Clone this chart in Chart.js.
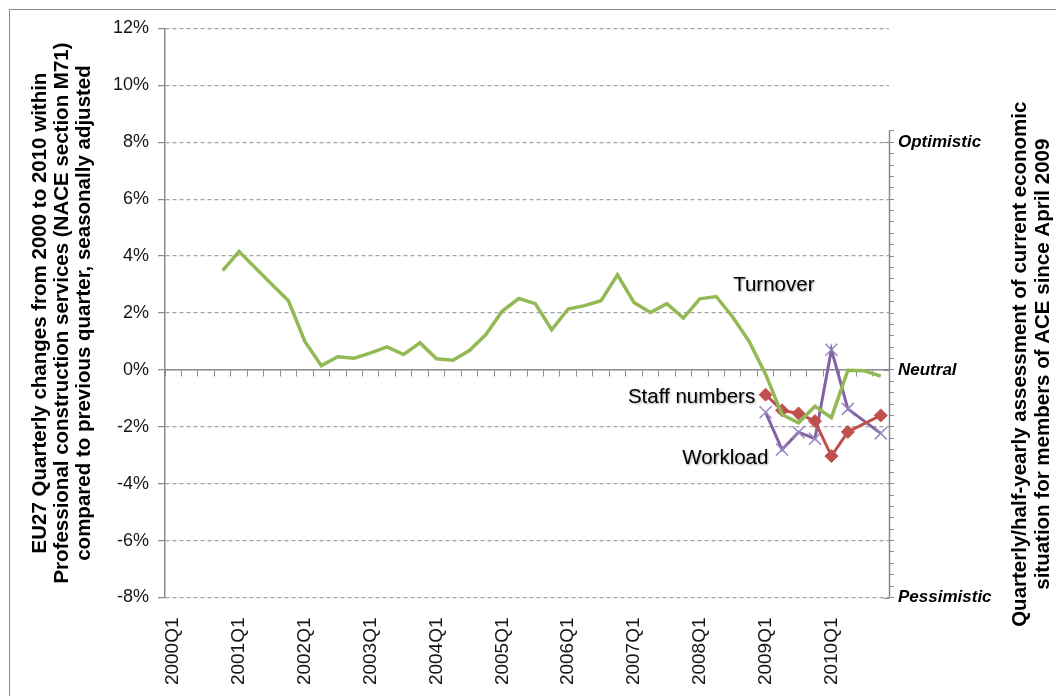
<!DOCTYPE html>
<html>
<head>
<meta charset="utf-8">
<script src="https://cdn.jsdelivr.net/npm/chart.js@4.4.0/dist/chart.umd.min.js"></script>
<style>
    html, body { margin: 0; padding: 0; background: #fff; }
    #wrap { width: 1056px; height: 696px; }
</style>
</head>
<body>
<div id="wrap"><canvas id="chart" width="1056" height="696"></canvas></div>
<script>
// Quarters on the category axis (2000Q1 .. 2010Q4)
const quarters = [
    '2000Q1', '2000Q2', '2000Q3', '2000Q4',
    '2001Q1', '2001Q2', '2001Q3', '2001Q4',
    '2002Q1', '2002Q2', '2002Q3', '2002Q4',
    '2003Q1', '2003Q2', '2003Q3', '2003Q4',
    '2004Q1', '2004Q2', '2004Q3', '2004Q4',
    '2005Q1', '2005Q2', '2005Q3', '2005Q4',
    '2006Q1', '2006Q2', '2006Q3', '2006Q4',
    '2007Q1', '2007Q2', '2007Q3', '2007Q4',
    '2008Q1', '2008Q2', '2008Q3', '2008Q4',
    '2009Q1', '2009Q2', '2009Q3', '2009Q4',
    '2010Q1', '2010Q2', '2010Q3', '2010Q4'
];

// EU27 turnover, % change on previous quarter
const turnover = [
    null, null, null, 3.49,
    4.16, 3.58, 3.00, 2.43,
    1.00, 0.15, 0.46, 0.41,
    0.60, 0.81, 0.54, 0.95,
    0.39, 0.34, 0.68, 1.24,
    2.07, 2.51, 2.33, 1.41,
    2.14, 2.26, 2.43, 3.34,
    2.37, 2.02, 2.33, 1.82,
    2.50, 2.58, 1.86, 1.00,
    -0.15, -1.57, -1.86, -1.28,
    -1.68, -0.01, -0.03, -0.22
];

// ACE survey (plotted on the same scale, right axis labels)
const staffNumbers = [
    null, null, null, null, null, null, null, null, null, null, null, null,
    null, null, null, null, null, null, null, null, null, null, null, null,
    null, null, null, null, null, null, null, null, null, null, null, null,
    -0.87, -1.42, -1.53, -1.80, -3.03, -2.18, null, -1.60
];
const workload = [
    null, null, null, null, null, null, null, null, null, null, null, null,
    null, null, null, null, null, null, null, null, null, null, null, null,
    null, null, null, null, null, null, null, null, null, null, null, null,
    -1.49, -2.80, -2.19, -2.42, 0.71, -1.37, null, -2.23
];

const moodLabels = { '8': 'Optimistic', '0': 'Neutral', '-8': 'Pessimistic' };

const leftTitle = [
    'EU27 Quarterly changes from 2000 to 2010 within',
    'Professional construction services (NACE section M71)',
    'compared to previous quarter, seasonally adjusted'
];
const rightTitle = [
    'Quarterly/half-yearly assessment of current economic',
    'situation for members of ACE since April 2009'
];

const FONT = "'Liberation Sans', Arial, sans-serif";
const AXIS_GREY = '#8c8c8c';

// series names written next to the lines (category index, value)
const seriesNotes = [
    { text: 'Turnover', at: 36.5, value: 2.77 },
    { text: 'Staff numbers', at: 31.5, value: -1.17 },
    { text: 'Workload', at: 33.55, value: -3.30 }
];

const extras = {
    id: 'extras',
    beforeDraw(chart) {
        const { ctx } = chart;
        ctx.save();
        ctx.fillStyle = '#fff';
        ctx.fillRect(0, 0, chart.width, chart.height);
        ctx.strokeStyle = '#8a8a8a';
        ctx.lineWidth = 1;
        ctx.strokeRect(9.5, 9.5, 1200, 1000);
        ctx.restore();
    },
    beforeDatasetsDraw(chart) {
        const { ctx, chartArea } = chart;
        const y2 = chart.scales.y2;
        const x = Math.round(chartArea.right) + 0.5;
        ctx.save();
        ctx.strokeStyle = AXIS_GREY;
        ctx.lineWidth = 1.5;
        ctx.beginPath();
        ctx.moveTo(x, y2.getPixelForValue(8.4));
        ctx.lineTo(x, chartArea.bottom);
        ctx.stroke();
        ctx.lineWidth = 1;
        [8, 0, -8].forEach(v => {
            const y = Math.round(y2.getPixelForValue(v)) + 0.5;
            ctx.beginPath();
            ctx.moveTo(x - 6, y);
            ctx.lineTo(x, y);
            ctx.stroke();
        });
        ctx.restore();
    },
    afterDraw(chart) {
        const { ctx, chartArea } = chart;
        const xs = chart.scales.x, ys = chart.scales.y, y2 = chart.scales.y2;
        ctx.save();
        // right axis title
        const cy = (y2.getPixelForValue(8.4) + chartArea.bottom) / 2;
        ctx.font = 'bold 20.5px ' + FONT;
        ctx.fillStyle = '#000';
        ctx.textAlign = 'center';
        ctx.textBaseline = 'middle';
        rightTitle.forEach((line, i) => {
            ctx.save();
            ctx.translate(chartArea.right + 131 + i * 23, cy);
            ctx.rotate(-Math.PI / 2);
            ctx.fillText(line, 0, 0);
            ctx.restore();
        });
        // series names
        ctx.font = '20.5px ' + FONT;
        ctx.textBaseline = 'alphabetic';
        ctx.shadowColor = 'rgba(0,0,0,0.35)';
        ctx.shadowBlur = 2;
        ctx.shadowOffsetX = 1;
        ctx.shadowOffsetY = 1;
        seriesNotes.forEach(n => {
            ctx.fillText(n.text, xs.getPixelForValue(n.at), ys.getPixelForValue(n.value));
        });
        ctx.restore();
    }
};

new Chart(document.getElementById('chart'), {
    type: 'line',
    data: {
        labels: quarters,
        datasets: [{
            label: 'Turnover',
            data: turnover,
            borderColor: '#93b955',
            borderWidth: 3.5,
            pointRadius: 0,
            tension: 0,
            fill: false
        }, {
            label: 'Staff numbers',
            data: staffNumbers,
            borderColor: '#c0504d',
            backgroundColor: '#c0504d',
            borderWidth: 3,
            pointStyle: 'rectRot',
            pointRadius: 6.5,
            pointBorderWidth: 1,
            spanGaps: true,
            tension: 0,
            fill: false
        }, {
            label: 'Workload',
            data: workload,
            borderColor: '#8064a2',
            pointBorderColor: '#9a86c0',
            borderWidth: 3,
            pointStyle: 'crossRot',
            pointRadius: 8.5,
            pointBorderWidth: 1.5,
            spanGaps: true,
            tension: 0,
            fill: false
        }]
    },
    options: {
        responsive: false,
        animation: false,
        devicePixelRatio: 1,
        layout: { padding: { top: 28.5, left: 0, right: 0, bottom: 0 } },
        plugins: {
            legend: { display: false },
            tooltip: { enabled: false }
        },
        scales: {
            x: {
                type: 'category',
                position: 'bottom',
                offset: true,
                grid: { display: false, offset: true },
                border: { display: false },
                ticks: {
                    autoSkip: false,
                    minRotation: 90,
                    maxRotation: 90,
                    padding: 12,
                    color: '#161616',
                    font: { family: FONT, size: 19 },
                    callback: function (val, index) {
                        return index % 4 === 0 ? this.getLabelForValue(val) : '';
                    }
                },
                afterFit(scale) { scale.height = 98.5; }
            },
            x2: {
                type: 'category',
                labels: quarters,
                position: { y: 0 },
                offset: true,
                grid: { offset: true, drawOnChartArea: false, tickLength: 6, color: AXIS_GREY },
                border: { color: AXIS_GREY, width: 1.5 },
                ticks: { display: false }
            },
            y: {
                position: 'left',
                min: -8,
                max: 12,
                ticks: {
                    stepSize: 2,
                    padding: 9,
                    color: '#161616',
                    font: { family: FONT, size: 18 },
                    callback: v => v + '%'
                },
                grid: { color: '#a3a3a3', lineWidth: 1.25, tickLength: 7, tickColor: AXIS_GREY },
                border: { color: AXIS_GREY, width: 1.5, dash: [4, 3] },
                title: {
                    display: true,
                    text: leftTitle,
                    color: '#000',
                    font: { family: FONT, size: 20.5, weight: 'bold', lineHeight: 22 / 20.5 },
                    padding: { top: 29, bottom: 0 }
                },
                afterFit(scale) { scale.width = 165; }
            },
            y2: {
                position: 'right',
                min: -8,
                max: 12,
                ticks: {
                    stepSize: 0.4,
                    autoSkip: false,
                    padding: 4,
                    color: '#000',
                    font: { family: FONT, size: 17, weight: 'bold', style: 'italic' },
                    callback: v => moodLabels[String(Math.round(v * 10) / 10)] || ''
                },
                grid: {
                    drawOnChartArea: false,
                    tickLength: 5,
                    color: ctx => (ctx.tick && ctx.tick.value > 8.45) ? 'rgba(0,0,0,0)' : AXIS_GREY
                },
                border: { display: false },
                afterFit(scale) { scale.width = 1056 - 889; }
            }
        }
    },
    plugins: [extras]
});
</script>
</body>
</html>
